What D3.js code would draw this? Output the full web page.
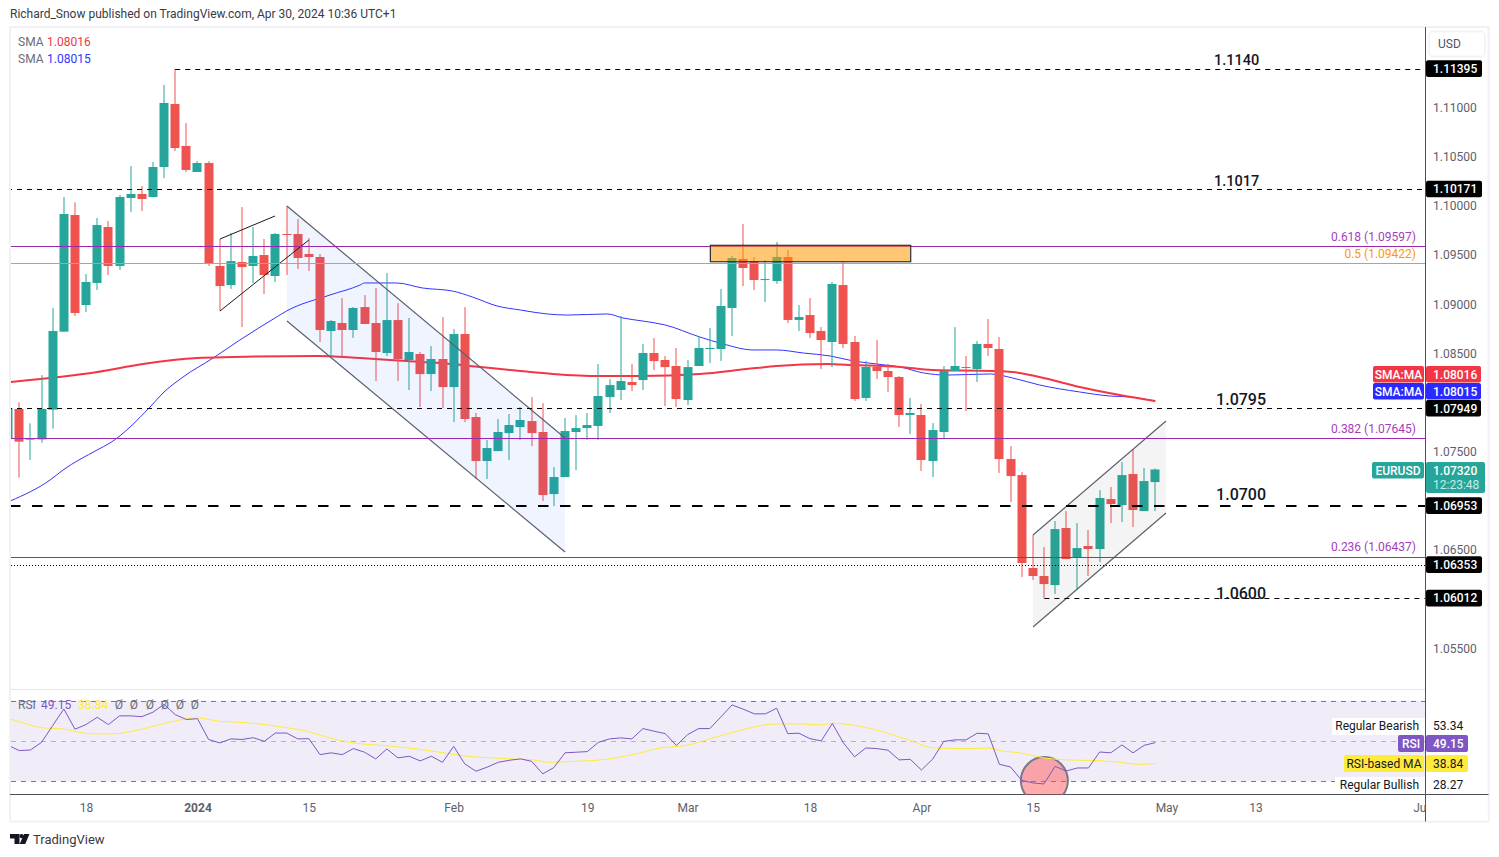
<!DOCTYPE html>
<html>
<head>
<meta charset="utf-8">
<script src="https://cdn.jsdelivr.net/npm/d3@7"></script>
<style>
html,body{margin:0;padding:0;background:#fff}
svg{display:block}
text{font-family:Roboto,"Open Sans",sans-serif}
</style>
</head>
<body>
<svg id="c" width="1499" height="857"></svg>
<script>
// ---- data (price candles run from session -1 to 102) ----
const firstSession = -1;
const opens = [1.07637,
1.07935,1.07623,1.07626,1.07928,1.08721,1.09907,1.08992,1.09216,1.09785,1.09389,
1.10080,1.10121,1.10090,1.10395,1.11036,1.10609,1.10344,1.10436,1.09389,1.09195,
1.09429,1.09389,1.09500,1.09287,1.09714,1.09714,1.09511,1.09480,1.08728,1.08809,
1.08738,1.08971,1.08809,1.08504,1.08839,1.08433,1.08494,1.08290,1.08443,1.08158,
1.08697,1.07853,1.07406,1.07507,1.07690,1.07751,1.07812,1.07701,1.07070,1.07243,
1.07701,1.07741,1.07762,1.08056,1.08128,1.08209,1.08229,1.08504,1.08433,1.08372,
1.08026,1.08372,1.08548,1.08545,1.08962,1.09460,1.09439,1.09250,1.09236,1.09480,
1.08840,1.08890,1.08728,1.08616,1.09195,1.08616,1.08047,1.08362,1.08321,1.08260,
1.07874,1.07874,1.07406,1.07701,1.08321,1.08362,1.08341,1.08596,1.08545,1.07426,
1.07263,1.06318,1.06237,1.06145,1.06725,1.06426,1.06542,1.06511,1.07019,1.06958,
1.07274,1.06897,1.07192];
const closes = [1.07942,
1.07603,1.07637,1.07935,1.08728,1.09917,1.08911,1.09226,1.09805,1.09389,1.10090,
1.10121,1.10070,1.10395,1.11046,1.10588,1.10365,1.10436,1.09419,1.09185,1.09439,
1.09378,1.09490,1.09297,1.09714,1.09704,1.09470,1.09480,1.08738,1.08829,1.08738,
1.08962,1.08799,1.08514,1.08839,1.08443,1.08514,1.08290,1.08443,1.08158,1.08697,
1.07833,1.07406,1.07538,1.07701,1.07772,1.07823,1.07690,1.07060,1.07243,1.07711,
1.07741,1.07772,1.08067,1.08178,1.08219,1.08178,1.08504,1.08422,1.08361,1.08036,
1.08361,1.08555,1.08555,1.08982,1.09470,1.09368,1.09246,1.09256,1.09480,1.08840,
1.08870,1.08707,1.08636,1.09206,1.08596,1.08036,1.08362,1.08321,1.08260,1.07874,
1.07894,1.07416,1.07721,1.08321,1.08372,1.08352,1.08596,1.08555,1.07426,1.07253,
1.06369,1.06237,1.06155,1.06714,1.06409,1.06521,1.06511,1.07030,1.06969,1.07263,
1.06908,1.07202,1.07320];
const highs = [1.08000,
1.08003,1.07789,1.08280,1.08962,1.10090,1.10036,1.09307,1.09877,1.09846,1.10110,
1.10405,1.10202,1.10446,1.11229,1.11395,1.10842,1.10456,1.10456,1.09663,1.09724,
1.09988,1.09785,1.09663,1.09724,1.09999,1.09866,1.09673,1.09511,1.08840,1.09063,
1.08972,1.09093,1.09165,1.09317,1.09012,1.08860,1.08514,1.08575,1.08870,1.08748,
1.08971,1.07894,1.07619,1.07833,1.07884,1.07955,1.08056,1.07995,1.07345,1.07843,
1.07873,1.07894,1.08392,1.08239,1.08880,1.08392,1.08595,1.08656,1.08473,1.08555,
1.08433,1.08677,1.08758,1.09155,1.09490,1.09816,1.09480,1.09450,1.09633,1.09551,
1.08992,1.09063,1.08768,1.09226,1.09433,1.08677,1.08423,1.08636,1.08392,1.08270,
1.08047,1.07986,1.07792,1.08372,1.08768,1.08474,1.08626,1.08850,1.08667,1.07558,
1.07294,1.06653,1.06531,1.06796,1.06897,1.06775,1.06704,1.07111,1.07141,1.07396,
1.07528,1.07335,1.07330];
const lows = [1.07500,
1.07237,1.07416,1.07592,1.07735,1.08721,1.08880,1.08921,1.09145,1.09297,1.09348,
1.09938,1.09948,1.10090,1.10283,1.10558,1.10344,1.10344,1.09389,1.08931,1.09155,
1.08768,1.09216,1.09104,1.09226,1.09297,1.09358,1.09338,1.08616,1.08453,1.08460,
1.08657,1.08799,1.08219,1.08473,1.08219,1.08128,1.07955,1.08117,1.07945,1.07802,
1.07802,1.07223,1.07223,1.07507,1.07416,1.07619,1.07558,1.06999,1.06948,1.07243,
1.07314,1.07619,1.07619,1.07894,1.08026,1.08117,1.08128,1.08331,1.07965,1.07955,
1.07975,1.08372,1.08402,1.08423,1.08677,1.09185,1.09145,1.09023,1.09206,1.08809,
1.08728,1.08657,1.08341,1.08362,1.08555,1.08016,1.08016,1.08240,1.08108,1.07752,
1.07681,1.07304,1.07243,1.07640,1.08321,1.07914,1.08209,1.08474,1.07284,1.06989,
1.06226,1.06196,1.06012,1.06054,1.06409,1.06094,1.06237,1.06379,1.06775,1.06786,
1.06735,1.06897,1.06897];

const smaBlueSessions = [-0.8,2.76,3.92,6.98,8.14,11.74,12.9,14.7,17.4,19.8,23.1,24,27.9,30.6,31,33.9,36.2,38.9,40.7,42.9,45,47.4,49.2,52.8,54.2,56,58,61.1,63.2,65.9,68,70.4,72.8,74.9,77,79.1,81.2,83.3,87.2,89.2,91.6,95.2,97.9,99.7,102];
const smaBlueValues = [1.07000,1.07213,1.07314,1.07518,1.07589,1.07955,1.08097,1.08260,1.08453,1.08636,1.08870,1.08931,1.09094,1.09195,1.09216,1.09216,1.09165,1.09134,1.09073,1.08982,1.08941,1.08901,1.08890,1.08901,1.08860,1.08829,1.08789,1.08667,1.08596,1.08535,1.08535,1.08504,1.08474,1.08423,1.08392,1.08362,1.08301,1.08280,1.08291,1.08250,1.08179,1.08108,1.08067,1.08057,1.08015];
const smaRedSessions = [-0.8,7,11.1,16,19.2,26.7,30.6,34.8,37.8,41.4,45,47.9,52.1,55.7,61.1,65.3,68,72.5,74.9,79.1,82,87.4,89.2,91.6,95.2,98.8,102];
const smaRedValues = [1.08209,1.08311,1.08392,1.08453,1.08463,1.08474,1.08453,1.08423,1.08402,1.08362,1.08321,1.08291,1.08270,1.08270,1.08291,1.08341,1.08372,1.08392,1.08382,1.08362,1.08331,1.08321,1.08311,1.08260,1.08158,1.08077,1.08016];

const rsiValues = [47.8,
45.2,45.5,49.3,57.6,65.8,55.8,58.1,61.7,58.1,62.4,
62.4,62.0,64.2,68.1,63.0,60.6,61.0,50.7,49.0,51.0,
50.7,51.6,49.8,53.9,53.9,51.0,51.1,43.2,44.1,43.2,
46.2,44.4,41.1,46.0,41.6,42.4,40.1,42.4,39.4,47.3,
38.6,35.0,37.0,39.4,40.4,41.1,39.9,33.7,36.8,44.1,
44.4,44.7,49.3,51.0,51.5,51.0,56.1,54.8,53.6,47.7,
53.1,56.1,56.1,61.9,67.8,65.7,63.4,63.4,66.2,53.6,
53.8,51.1,50.0,58.6,49.0,42.1,46.5,46.2,45.4,40.6,
40.9,35.6,40.9,49.7,50.5,50.5,53.8,53.5,38.4,37.1,
30.5,29.2,28.7,37.4,35.1,36.6,36.6,44.5,44.1,48.0,
44.1,47.8,49.15];
const rsiMaSessions = [-0.83,0.36,2.16,3.95,6.35,8.44,10.84,13.2,15.9,18,19.8,23.7,25.8,28.2,30,32.7,35.7,38.1,40.2,43.2,44.96,46.15,47.65,49.45,50.94,53,55.1,57.5,59.9,62.6,65,68,70.1,71.9,73.1,74,77,80,82.1,85.1,87.2,88.06,89.9,92,94,96.4,98.5,100.6,102];
const rsiMaValues = [60.9,58.9,56.4,55.9,53.5,53.5,55.6,58.9,61.4,59.7,59.2,56.8,54.8,51.0,49.0,47.7,46.0,44.1,42.4,41.4,40.9,40.6,39.4,39.8,40.1,41.1,43.2,46.4,47.8,52.0,55.6,58.4,58.4,57.9,58.7,58.4,55.3,50.2,46.5,46.2,46.4,45.2,44.0,41.6,40.6,40.3,39.6,38.4,38.84];

const priceTicks = [1.055,1.065,1.075,1.085,1.09,1.095,1.10,1.105,1.11];
const timeTickSessions = [6,16,26,39,51,60,71,81,91,103,111,126];
const timeTickLabels = ["18","2024","15","Feb","19","Mar","18","Apr","15","May","13","Jun"];

const dashedLevels = [1.11395,1.10171,1.07949,1.06012];
const dashedStarts = [14,-2,-2,92.04];
const keyLevelNames = ["1.1140","1.1017","1.0795","1.0700","1.0600"];
const keyLevelPrices = [1.11395,1.10171,1.07949,1.06953,1.06012];
const keyLevelSessions = [109.3,109.3,109.7,109.7,109.7];
const keyLevelSizes = [14.5,14.5,16,16,16];
const keyLevelOffsets = [-4,-3,-2.5,-6,0.5];
const fibLevels = [1.09597,1.09422,1.07645,1.06428];
const fibNames = ["0.618 (1.09597)","0.5 (1.09422)","0.382 (1.07645)","0.236 (1.06437)"];
const fibColors = ["#9c27b0","#ff9800","#9c27b0","#9c27b0"];
const thickLevel = 1.06953, dottedLevel = 1.06353;

const fallSessions = [24.03,49,49,24.03], fallPrices = [1.09999,1.07640,1.06481,1.08829];
const riseSessions = [91.02,102.96,102.96,91.02], risePrices = [1.06654,1.07813,1.06877,1.05718];
const flagTopSessions = [18.02,22.96], flagTopPrices = [1.09663,1.09897];
const flagBottomSessions = [18.02,26], flagBottomPrices = [1.08931,1.09653];
const zoneSessions = [62.05,80.04], zonePrices = [1.09599,1.09432];

// ---- layout ----
const svg = d3.select("#c");
const L = 11, R = 1425, T = 28, PB = 689, AXY = 794.5, FB = 821.5, FR = 1488.5;
const x = d3.scaleLinear().domain([0,102]).range([19.3,1155.3]);
const y = d3.scaleLinear().domain([1.11,1.055]).range([107.5,648.5]);
const ry = d3.scaleLinear().domain([70,30]).range([700.5,781.3]);
const UP = "#26a69a", DOWN = "#ef5350";

const defs = svg.append("defs");
defs.append("clipPath").attr("id","pp").append("rect").attr("x",L).attr("y",T).attr("width",R-L).attr("height",PB-T);
defs.append("clipPath").attr("id","rp").append("rect").attr("x",L).attr("y",PB).attr("width",R-L).attr("height",AXY-PB);

// frame
const frameCol = "#f0f0f6";
svg.append("rect").attr("x",10).attr("y",27).attr("width",FR-10).attr("height",FB-27)
  .attr("fill","#fff").attr("stroke",frameCol).attr("stroke-width",2);

svg.append("text").attr("x",10).attr("y",18).attr("font-size",12).attr("fill","#3a3a44")
  .text("Richard_Snow published on TradingView.com, Apr 30, 2024 10:36 UTC+1");

// price pane
const pane = svg.append("g").attr("clip-path","url(#pp)");
const line = d3.line().x(d=>x(d[0])).y(d=>y(d[1])).curve(d3.curveMonotoneX);
pane.append("path").attr("fill","none").attr("stroke","#3333ff").attr("stroke-width",1)
  .attr("d",line(d3.zip(smaBlueSessions,smaBlueValues)));
pane.append("path").attr("fill","none").attr("stroke","#f23645").attr("stroke-width",2)
  .attr("d",line(d3.zip(smaRedSessions,smaRedValues)));

const candles = opens.map((o,i)=>({s:firstSession+i,o,c:closes[i],h:highs[i],l:lows[i]}));
const cg = pane.append("g").selectAll("g").data(candles).join("g")
  .attr("fill",d=>d.c>=d.o?UP:DOWN);
cg.append("rect").attr("x",d=>Math.round(x(d.s))-0.5).attr("width",1)
  .attr("y",d=>y(d.h)).attr("height",d=>y(d.l)-y(d.h));
cg.append("rect").attr("x",d=>Math.round(x(d.s))-4.5).attr("width",9)
  .attr("y",d=>y(Math.max(d.o,d.c))).attr("height",d=>Math.max(1,y(Math.min(d.o,d.c))-y(Math.max(d.o,d.c))));

// drawings
const poly = (ss,ps)=>d3.zip(ss,ps).map(d=>[x(d[0]),y(d[1])]);
function channel(ss,ps,fill){
  const p = poly(ss,ps);
  pane.append("polygon").attr("points",p.join(" ")).attr("fill",fill);
  [[p[0],p[1]],[p[3],p[2]]].forEach(a=>pane.append("line")
    .attr("x1",a[0][0]).attr("y1",a[0][1]).attr("x2",a[1][0]).attr("y2",a[1][1])
    .attr("stroke","#5d606b").attr("stroke-width",1.2));
}
channel(fallSessions,fallPrices,"rgba(41,98,255,0.07)");
channel(riseSessions,risePrices,"rgba(78,100,90,0.07)");
[[flagTopSessions,flagTopPrices],[flagBottomSessions,flagBottomPrices]].forEach(f=>{
  const p = poly(f[0],f[1]);
  pane.append("line").attr("x1",p[0][0]).attr("y1",p[0][1]).attr("x2",p[1][0]).attr("y2",p[1][1])
    .attr("stroke","#1b1b1f").attr("stroke-width",1);
});
fibLevels.forEach((v,i)=>{
  const yy = Math.round(y(v))+0.5;
  pane.append("line").attr("x1",L).attr("x2",R).attr("y1",yy).attr("y2",yy).attr("stroke",fibColors[i]).attr("stroke-width",1);
  svg.append("text").attr("x",1416).attr("y",yy-(i==3?7:6)).attr("text-anchor","end").attr("font-size",12)
    .attr("fill",fibColors[i]=="#9c27b0"?"#a53dbb":"#ff9800").text(fibNames[i]);
});
dashedLevels.forEach((v,i)=>{
  const yy = Math.round(y(v))+0.5;
  pane.append("line").attr("x1",x(dashedStarts[i])).attr("x2",R).attr("y1",yy).attr("y2",yy)
    .attr("stroke","#000").attr("stroke-width",1).attr("stroke-dasharray","5 5");
});
pane.append("line").attr("x1",10).attr("x2",R).attr("y1",Math.round(y(thickLevel))).attr("y2",Math.round(y(thickLevel)))
  .attr("stroke","#000").attr("stroke-width",2).attr("stroke-dasharray","10.5 11.5");
pane.append("line").attr("x1",L).attr("x2",R).attr("y1",Math.round(y(dottedLevel))+0.5).attr("y2",Math.round(y(dottedLevel))+0.5)
  .attr("stroke","#000").attr("stroke-width",1).attr("stroke-dasharray","1 2");
pane.append("rect").attr("x",x(zoneSessions[0])).attr("y",y(zonePrices[0]))
  .attr("width",x(zoneSessions[1])-x(zoneSessions[0])).attr("height",y(zonePrices[1])-y(zonePrices[0]))
  .attr("fill","rgba(255,152,0,0.55)").attr("stroke","#2a2e39").attr("stroke-width",1.2);

keyLevelNames.forEach((n,i)=>{
  svg.append("text").attr("x",x(keyLevelSessions[i])).attr("y",y(keyLevelPrices[i])+keyLevelOffsets[i])
    .attr("text-anchor","middle").attr("font-size",keyLevelSizes[i]).attr("font-weight",500).attr("fill","#131722").text(n);
});

// pane separators + axis lines
svg.append("line").attr("x1",L).attr("x2",R).attr("y1",PB+0.5).attr("y2",PB+0.5).attr("stroke","#e6e6ee");
svg.append("line").attr("x1",L-1).attr("x2",FR).attr("y1",AXY).attr("y2",AXY).attr("stroke","#50505c");
svg.append("line").attr("x1",R+0.5).attr("x2",R+0.5).attr("y1",27).attr("y2",FB).attr("stroke","#50505c");

// legend
const leg = [["1.08016","#f23645",46],["1.08015","#3333ff",63]];
leg.forEach(l=>{
  svg.append("text").attr("x",18).attr("y",l[2]).attr("font-size",12).attr("fill","#6a6d78").text("SMA");
  svg.append("text").attr("x",47).attr("y",l[2]).attr("font-size",12).attr("fill",l[1]).text(l[0]);
});

// RSI pane
const rp = svg.append("g").attr("clip-path","url(#rp)");
rp.append("rect").attr("x",L).attr("width",R-L).attr("y",ry(70)).attr("height",ry(30)-ry(70)).attr("fill","#f0edf9");
[[70,"#787b86"],[50,"#b5b3be"],[30,"#787b86"]].forEach(d=>{
  rp.append("line").attr("x1",L).attr("x2",R).attr("y1",Math.round(ry(d[0]))+0.5).attr("y2",Math.round(ry(d[0]))+0.5)
    .attr("stroke",d[1]).attr("stroke-dasharray","5 5");
});
rp.append("circle").attr("cx",x(92.04)).attr("cy",ry(30.35)).attr("r",23.5)
  .attr("fill","rgba(255,82,82,0.48)").attr("stroke","#787b86").attr("stroke-width",2);
const rl = d3.line().x(d=>x(d[0])).y(d=>ry(d[1]));
rp.append("path").attr("fill","none").attr("stroke","#ffeb3b").attr("stroke-width",1)
  .attr("d",rl.curve(d3.curveMonotoneX)(d3.zip(rsiMaSessions,rsiMaValues)));
rp.append("path").attr("fill","none").attr("stroke","#7e57c2").attr("stroke-width",1)
  .attr("d",rl.curve(d3.curveLinear)(rsiValues.map((v,i)=>[firstSession+i,v])));
const rLegY = 709;
svg.append("text").attr("x",18).attr("y",rLegY).attr("font-size",12).attr("fill","#6a6d78").text("RSI");
svg.append("text").attr("x",41).attr("y",rLegY).attr("font-size",12).attr("fill","#7e57c2").text("49.15");
svg.append("text").attr("x",78).attr("y",rLegY).attr("font-size",12).attr("fill","#ffeb3b").text("38.84");
[119,134,150,165,180,195].forEach(px=>svg.append("text").attr("x",px).attr("y",rLegY)
  .attr("text-anchor","middle").attr("font-size",12).attr("fill","#6a6d78").text("Ø"));

// axes
const axisRight = d3.axisRight(y).tickValues(priceTicks).tickSize(0).tickPadding(8).tickFormat(d3.format(".5f"));
const ax = svg.append("g").attr("transform",`translate(${R},0)`).call(axisRight);
ax.select(".domain").remove();
ax.selectAll("text").attr("font-size",12).attr("fill","#5d606b").style("font-family","Roboto");

const axisBottom = d3.axisBottom(x).tickValues(timeTickSessions).tickSize(0).tickPadding(9)
  .tickFormat((d,i)=>timeTickLabels[i]);
const tg = svg.append("g").attr("transform",`translate(0,${AXY})`).call(axisBottom);
tg.select(".domain").remove();
tg.selectAll("text").attr("font-size",12).attr("fill","#5d606b").style("font-family","Roboto")
  .attr("font-weight",(d,i)=>timeTickLabels[i]=="2024"?"700":"400");
// time labels are cut off at the price scale
svg.append("rect").attr("x",R+1).attr("y",AXY+1).attr("width",FR-R-2).attr("height",FB-AXY-2).attr("fill","#fff");

// price tags
function tag(x0,w,y0,h,fill,txt,col,opts){
  opts = opts||{};
  svg.append("rect").attr("x",x0).attr("y",y0).attr("width",w).attr("height",h).attr("rx",opts.rx==null?2:opts.rx).attr("fill",fill);
  if(txt) svg.append("text").attr("x",opts.tx||x0+w/2).attr("y",y0+h/2+4.2).attr("text-anchor",opts.anchor||"middle")
    .attr("font-size",12).attr("font-weight",opts.w||500).attr("fill",col).text(txt);
}
const TX = 1433;
function ptag(v,txt,fill,col){
  const h = 16.6, yy = y(v)-h/2;
  tag(R+1,56,yy,h,fill,txt,col,{tx:TX,anchor:"start"});
}
ptag(1.11395,"1.11395","#000","#fff");
ptag(1.10171,"1.10171","#000","#fff");
tag(1373,51,366,16.6,"#f23645","SMA:MA","#fff");
tag(1426,55,366,16.6,"#f23645","1.08016","#fff",{tx:TX,anchor:"start"});
tag(1373,51,383,16.6,"#2a2aff","SMA:MA","#fff");
tag(1426,55,383,16.6,"#2a2aff","1.08015","#fff",{tx:TX,anchor:"start"});
tag(1426,55,400,16.6,"#000","1.07949","#fff",{tx:TX,anchor:"start"});
tag(1372,52,462,16.6,UP,"EURUSD","#fff");
svg.append("rect").attr("x",1426).attr("y",462).attr("width",59).attr("height",31).attr("rx",2).attr("fill",UP);
svg.append("text").attr("x",TX).attr("y",475).attr("font-size",12).attr("font-weight",500).attr("fill","#fff").text("1.07320");
svg.append("text").attr("x",TX).attr("y",489).attr("font-size",12).attr("fill","#c6ece8").text("12:23:48");
ptag(1.06953,"1.06953","#000","#fff");
ptag(1.06353,"1.06353","#000","#fff");
ptag(1.06012,"1.06012","#000","#fff");

// RSI tags
svg.append("rect").attr("x",1332).attr("y",718).attr("width",93).attr("height",17).attr("fill","#fff");
svg.append("text").attr("x",1419).attr("y",730).attr("text-anchor","end").attr("font-size",12).attr("fill","#131722").text("Regular Bearish");
svg.append("text").attr("x",TX).attr("y",730).attr("font-size",12).attr("fill","#131722").text("53.34");
tag(1398,26,735,17,"#7e57c2","RSI","#fff");
tag(1426,42,735,17,"#7e57c2","49.15","#fff",{tx:TX,anchor:"start"});
tag(1344,80,755,17,"#ffeb3b","RSI-based MA","#131722",{w:400});
tag(1426,42,755,17,"#ffeb3b","38.84","#131722",{tx:TX,anchor:"start",w:400});
svg.append("rect").attr("x",1335).attr("y",777).attr("width",90).attr("height",17).attr("fill","#fff");
svg.append("text").attr("x",1419).attr("y",789).attr("text-anchor","end").attr("font-size",12).attr("fill","#131722").text("Regular Bullish");
svg.append("text").attr("x",TX).attr("y",789).attr("font-size",12).attr("fill","#131722").text("28.27");

// USD
svg.append("rect").attr("x",1429).attr("y",31.5).attr("width",56).attr("height",25).attr("rx",4)
  .attr("fill","#fff").attr("stroke","#f0f0f6").attr("stroke-width",1.5);
svg.append("text").attr("x",1438).attr("y",48).attr("font-size",12).attr("fill","#50535e").text("USD");

// footer logo
const logo = svg.append("g").attr("fill","#131722");
logo.append("path").attr("d","M10 834h9.5v10h-5v-5.5H10z");
logo.append("circle").attr("cx",21.6).attr("cy",836.2).attr("r",2.1);
logo.append("path").attr("d","M24 834h5.5l-4.3 10h-5.5z");
svg.append("text").attr("x",33).attr("y",844).attr("font-size",13).attr("fill","#3a3a44").text("TradingView");
</script>
</body>
</html>
